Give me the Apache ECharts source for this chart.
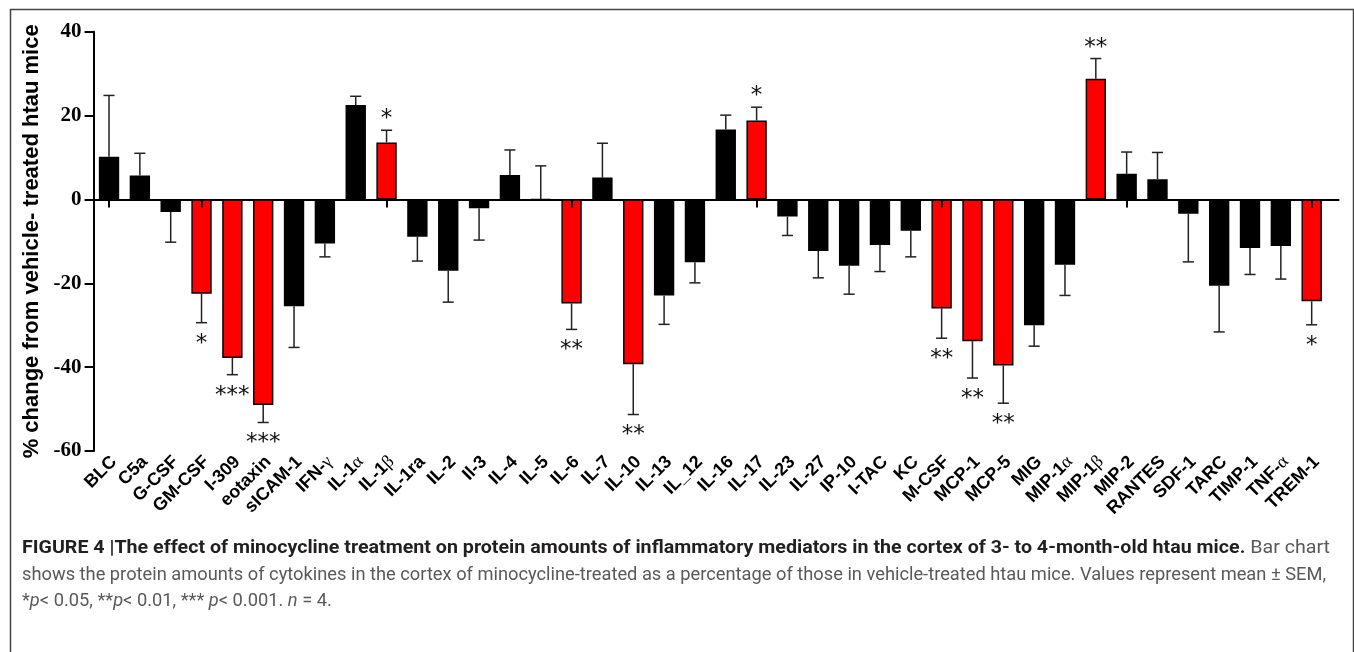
<!DOCTYPE html>
<html>
<head>
<meta charset="utf-8">
<script src="https://cdn.jsdelivr.net/npm/echarts@6/dist/echarts.min.js"></script>
<style>
html,body{margin:0;padding:0;background:#fff;}
#chart{width:1354px;height:652px;}
</style>
</head>
<body>
<div id="chart"></div>
<script>
const categories = ['BLC','C5a','G-CSF','GM-CSF','I-309','eotaxin','sICAM-1','IFN-γ','IL-1α','IL-1β',
  'IL-1ra','IL-2','Il-3','IL-4','IL-5','IL-6','IL-7','IL-10','IL-13','IL_12',
  'IL-16','IL-17','IL-23','IL-27','IP-10','I-TAC','KC','M-CSF','MCP-1','MCP-5',
  'MIG','MIP-1α','MIP-1β','MIP-2','RANTES','SDF-1','TARC','TIMP-1','TNF-α','TREM-1'];
const values = [10.2, 5.7, -3.0, -22.5, -37.8, -49.0, -25.5, -10.5, 22.5, 13.6,
  -8.9, -17.0, -2.1, 5.8, 0, -24.8, 5.2, -39.3, -22.9, -15.0,
  16.7, 18.8, -4.1, -12.3, -15.8, -10.9, -7.5, -26.0, -33.8, -39.6,
  -30.0, -15.6, 28.8, 6.1, 4.8, -3.4, -20.6, -11.6, -11.1, -24.3];
const sems = [14.6, 5.3, 7.2, 6.9, 4.0, 4.2, 9.8, 3.2, 2.1, 2.9,
  5.8, 7.5, 7.6, 6.0, 8.0, 6.2, 8.2, 12.0, 6.9, 4.9,
  3.4, 3.2, 4.5, 6.4, 6.8, 6.3, 6.2, 7.1, 8.8, 9.0,
  5.0, 7.3, 4.8, 5.2, 6.4, 11.5, 11.0, 6.3, 7.9, 5.6];
const significance = ['', '', '', '*', '***', '***', '', '', '', '*',
  '', '', '', '', '', '**', '', '**', '', '',
  '', '*', '', '', '', '', '', '**', '**', '**',
  '', '', '**', '', '', '', '', '', '', '*'];
const yTicks = {min: -60, max: 40, interval: 20};
const yAxisTitle = '% change from vehicle- treated htau mice';
const captionBold = 'FIGURE 4 |The effect of minocycline treatment on protein amounts of inflammatory mediators in the cortex of 3- to 4-month-old htau mice.';
const captionLine1Rest = ' Bar chart';
const captionLine2 = 'shows the protein amounts of cytokines in the cortex of minocycline-treated as a percentage of those in vehicle-treated htau mice. Values represent mean ± SEM,';

const chart = echarts.init(document.getElementById('chart'), null, {renderer: 'canvas'});

// caption width fitting
const cv = document.createElement('canvas').getContext('2d');
function mw(font, t){ cv.font = font; return cv.measureText(t).width; }
const capFam = 'Roboto';
const capSize = 19;
const w1 = mw('700 ' + capSize + 'px ' + capFam, captionBold) + mw('400 ' + capSize + 'px ' + capFam, captionLine1Rest);
const w2 = mw('400 ' + capSize + 'px ' + capFam, captionLine2);
const sx1 = (1330 - 22) / w1;
const sx2 = (1326 - 22) / w2;

const greek = /^(.*?)([αβγ])$/;
function labelFmt(v){
  const m = v.match(greek);
  if (m) return '{n|' + m[1] + '}{g|' + m[2] + '}';
  return '{n|' + v + '}';
}

const option = {
  animation: false,
  backgroundColor: '#ffffff',
  grid: [
    {left: 93.6, top: 31.7, width: 1233.5, height: 419.3},
    {left: 93.6, top: 31.7, width: 1245, height: 419.3}
  ],
  xAxis: [
    {
      type: 'category', gridIndex: 0, data: categories, position: 'bottom',
      axisLine: {show: false, onZero: false},
      axisTick: {show: false},
      axisLabel: {
        interval: 0, rotate: 45, margin: 13, padding: [0, -7, 0, 0], formatter: labelFmt,
        rich: {
          n: {fontFamily: 'Liberation Sans', fontWeight: 'bold', fontSize: 18, color: '#000'},
          g: {fontFamily: 'Liberation Serif', fontWeight: 'normal', fontSize: 18, color: '#000'}
        }
      },
      splitLine: {show: false}
    },
    {
      type: 'category', gridIndex: 0, data: categories, position: 'bottom', z: 5,
      axisLine: {show: true, onZero: true, lineStyle: {color: '#000', width: 2}},
      axisTick: {show: true, alignWithLabel: true, length: 8, lineStyle: {color: '#000', width: 2}},
      axisLabel: {show: false},
      splitLine: {show: false}
    },
    {
      type: 'category', gridIndex: 1, data: categories, position: 'bottom', z: 5,
      axisLine: {show: true, onZero: true, lineStyle: {color: '#000', width: 2}},
      axisTick: {show: false},
      axisLabel: {show: false},
      splitLine: {show: false}
    }
  ],
  yAxis: [
    {
      type: 'value', gridIndex: 0, min: yTicks.min, max: yTicks.max, interval: yTicks.interval,
      name: yAxisTitle, nameLocation: 'middle', nameGap: 51, nameRotate: 90,
      nameTextStyle: {fontFamily: 'Liberation Sans', fontWeight: 'bold', fontSize: 22, color: '#000'},
      axisLine: {show: true, lineStyle: {color: '#000', width: 2}},
      axisTick: {show: true, length: 9, lineStyle: {color: '#000', width: 2}},
      axisLabel: {margin: 12, fontFamily: 'Liberation Serif', fontWeight: 'bold', fontSize: 21, color: '#000'},
      splitLine: {show: false}
    },
    {
      type: 'value', gridIndex: 1, min: yTicks.min, max: yTicks.max, interval: yTicks.interval,
      axisLine: {show: false}, axisTick: {show: false}, axisLabel: {show: false}, splitLine: {show: false}
    }
  ],
  series: [
    {
      type: 'bar', xAxisIndex: 0, yAxisIndex: 0, barWidth: '66%', z: 2,
      data: values.map((v, i) => ({value: v, itemStyle: {color: significance[i] ? '#ff0000' : '#000000'}})),
      itemStyle: {borderColor: '#000', borderWidth: 1.5}
    },
    {
      type: 'custom', xAxisIndex: 0, yAxisIndex: 0, z: 4,
      encode: {x: 0, y: 1},
      data: values.map((v, i) => [i, v, sems[i]]),
      renderItem: function (params, api) {
        const i = api.value(0), v = api.value(1), e = api.value(2);
        const dir = v >= 0 ? 1 : -1;
        const p0 = api.coord([i, v]);
        const p1 = api.coord([i, v + dir * e]);
        const half = api.size([1, 0])[0] * 0.18;
        const st = {stroke: '#222', lineWidth: 1.5};
        const children = [
          {type: 'line', shape: {x1: p0[0], y1: p0[1], x2: p1[0], y2: p1[1]}, style: st},
          {type: 'line', shape: {x1: p1[0] - half, y1: p1[1], x2: p1[0] + half, y2: p1[1]}, style: st}
        ];
        const s = significance[params.dataIndex];
        if (s) {
          children.push({type: 'text', x: p1[0], y: p1[1] + (dir > 0 ? -11 : 21),
            style: {text: s, fill: '#111', fontFamily: 'DejaVu Sans', fontSize: 23, align: 'center', verticalAlign: 'middle'}});
        }
        return {type: 'group', children: children};
      }
    }
  ],
  graphic: [
    {type: 'rect', left: 8, top: 7, z: 0, silent: true,
      shape: {x: 0, y: 0, width: 1343, height: 700},
      style: {fill: 'none', stroke: '#444', lineWidth: 1.5}},
    {type: 'text', x: 22, y: 548, scaleX: sx1, z: 10,
      style: {
        text: '{b|' + captionBold + '}{r|' + captionLine1Rest + '}',
        verticalAlign: 'middle',
        rich: {
          b: {fontFamily: capFam, fontWeight: 700, fontSize: capSize, fill: '#231f20'},
          r: {fontFamily: capFam, fontWeight: 400, fontSize: capSize, fill: '#58595b'}
        }
      }},
    {type: 'text', x: 22, y: 575, scaleX: sx2, z: 10,
      style: {text: captionLine2, verticalAlign: 'middle', fontFamily: capFam, fontWeight: 400, fontSize: capSize, fill: '#58595b'}},
    {type: 'text', x: 22, y: 601, scaleX: sx2, z: 10,
      style: {
        text: '{r|*}{i|p}{r|< 0.05, **}{i|p}{r|< 0.01, *** }{i|p}{r|< 0.001. }{i|n}{r| = 4.}',
        verticalAlign: 'middle',
        rich: {
          r: {fontFamily: capFam, fontWeight: 400, fontSize: capSize, fill: '#58595b'},
          i: {fontFamily: capFam, fontWeight: 400, fontStyle: 'italic', fontSize: capSize, fill: '#58595b'}
        }
      }}
  ]
};
chart.setOption(option);
</script>
</body>
</html>
